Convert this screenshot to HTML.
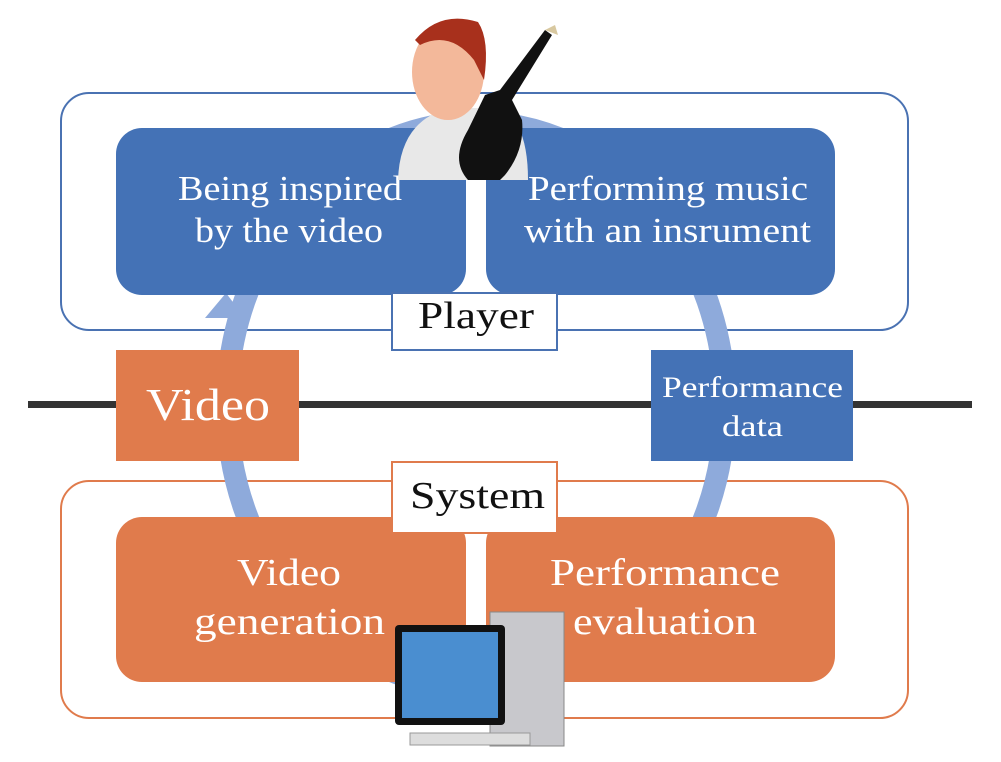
<!DOCTYPE html>
<html><head><meta charset="utf-8"><style>
html,body{margin:0;padding:0;background:#fff;}
svg{display:block;}
text{font-family:"Liberation Serif",serif;}
</style></head><body>
<svg width="1001" height="762" viewBox="0 0 1001 762" xmlns="http://www.w3.org/2000/svg">
<rect x="0" y="0" width="1001" height="762" fill="#fff"/>
<rect x="61" y="93" width="847" height="237" rx="28" fill="#fff" stroke="#4a72b2" stroke-width="2"/>
<rect x="61" y="481" width="847" height="237" rx="28" fill="#fff" stroke="#e07b4c" stroke-width="2"/>
<ellipse cx="476" cy="405" rx="249" ry="283" fill="none" stroke="#8eaadb" stroke-width="22"/>
<polygon points="205,318 245,318 226,293" fill="#8eaadb"/>
<rect x="28" y="401" width="944" height="7" fill="#333"/>
<rect x="116" y="128" width="350" height="167" rx="26" fill="#4472b6"/>
<rect x="486" y="128" width="349" height="167" rx="26" fill="#4472b6"/>
<text x="178" y="200" fill="#fff" font-size="35" textLength="224" lengthAdjust="spacingAndGlyphs">Being inspired</text>
<text x="195" y="242" fill="#fff" font-size="35" textLength="188" lengthAdjust="spacingAndGlyphs">by the video</text>
<text x="528" y="200" fill="#fff" font-size="35" textLength="280" lengthAdjust="spacingAndGlyphs">Performing music</text>
<text x="524" y="242" fill="#fff" font-size="35" textLength="287" lengthAdjust="spacingAndGlyphs">with an insrument</text>
<rect x="116" y="517" width="350" height="165" rx="26" fill="#e07b4c"/>
<rect x="486" y="517" width="349" height="165" rx="26" fill="#e07b4c"/>
<text x="237" y="585" fill="#fff" font-size="38" textLength="104" lengthAdjust="spacingAndGlyphs">Video</text>
<text x="194" y="634" fill="#fff" font-size="38" textLength="191" lengthAdjust="spacingAndGlyphs">generation</text>
<text x="550" y="585" fill="#fff" font-size="38" textLength="230" lengthAdjust="spacingAndGlyphs">Performance</text>
<text x="573" y="634" fill="#fff" font-size="38" textLength="184" lengthAdjust="spacingAndGlyphs">evaluation</text>
<rect x="392" y="293" width="165" height="57" fill="#fff" stroke="#4a72b2" stroke-width="2"/>
<text x="418" y="328" fill="#111" font-size="38" textLength="116" lengthAdjust="spacingAndGlyphs">Player</text>
<rect x="392" y="462" width="165" height="71" fill="#fff" stroke="#e07b4c" stroke-width="2"/>
<text x="410" y="508" fill="#111" font-size="38" textLength="135" lengthAdjust="spacingAndGlyphs">System</text>
<rect x="116" y="350" width="183" height="111" fill="#e07b4c"/>
<text x="146" y="420" fill="#fff" font-size="46" textLength="124" lengthAdjust="spacingAndGlyphs">Video</text>
<rect x="651" y="350" width="202" height="111" fill="#4472b6"/>
<text x="662" y="397" fill="#fff" font-size="30" textLength="181" lengthAdjust="spacingAndGlyphs">Performance</text>
<text x="722" y="436" fill="#fff" font-size="30" textLength="61" lengthAdjust="spacingAndGlyphs">data</text>
<path d="M398,180 Q400,120 450,108 L500,108 Q528,122 528,180 Z" fill="#e8e8e8"/>
<ellipse cx="448" cy="72" rx="36" ry="48" fill="#f3b89a"/>
<path d="M415,40 Q440,10 478,22 Q490,40 484,80 L474,60 Q450,30 420,45 Z" fill="#a8301c"/>
<path d="M500,180 L468,180 Q450,160 468,130 L485,95 L500,90 L545,30 L552,35 L512,100 L522,120 Q525,150 505,175 Z" fill="#111"/>
<path d="M545,30 L555,25 L558,35 Z" fill="#d8c8a0"/>
<rect x="490" y="612" width="74" height="134" fill="#c8c8cc" stroke="#888"/>
<rect x="395" y="625" width="110" height="100" rx="4" fill="#111"/>
<rect x="402" y="632" width="96" height="86" fill="#4a8ed0"/>
<rect x="410" y="733" width="120" height="12" fill="#ddd" stroke="#999"/>
</svg>
</body></html>
